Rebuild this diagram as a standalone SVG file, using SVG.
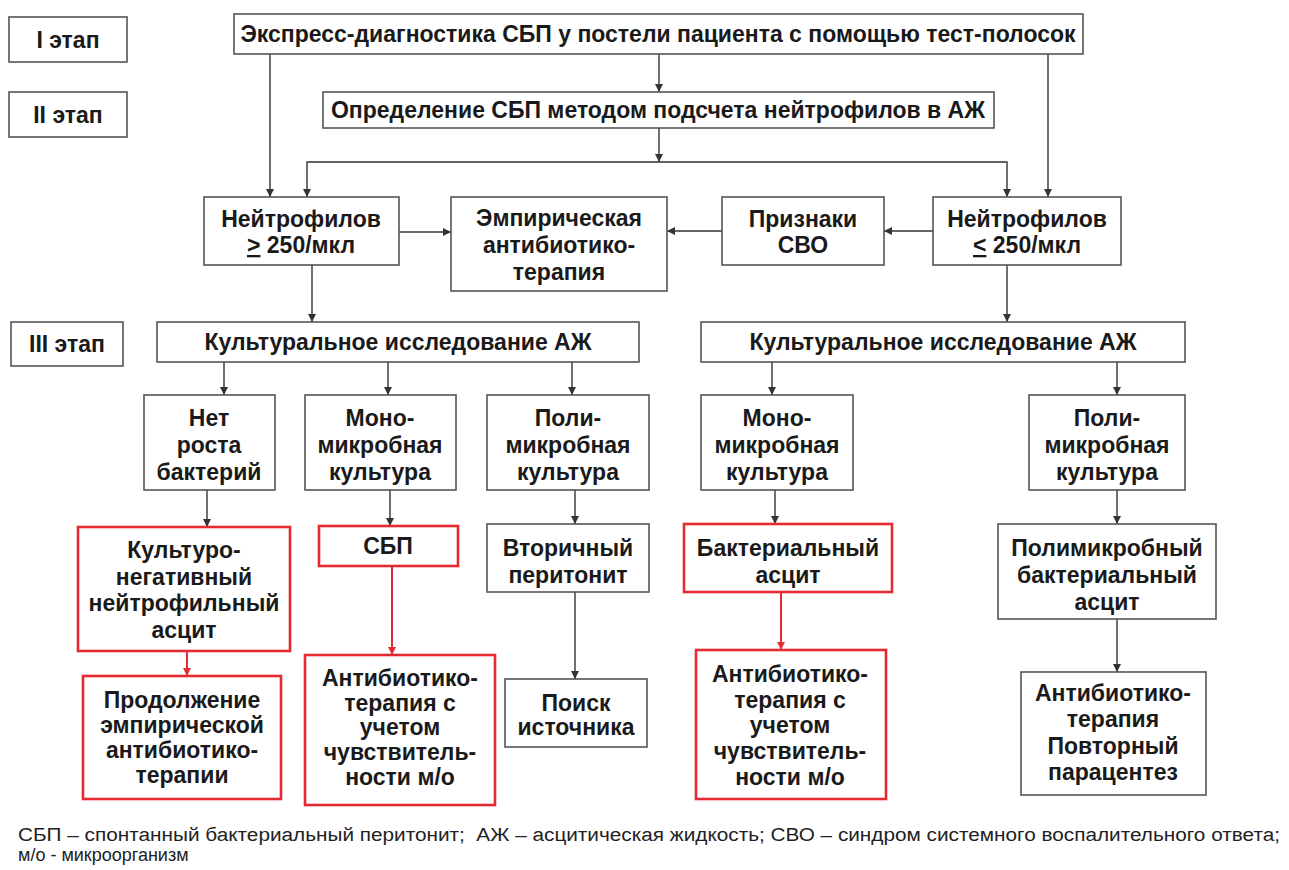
<svg xmlns="http://www.w3.org/2000/svg" width="1289" height="870" viewBox="0 0 1289 870">
<defs>
<style>
.b{fill:#fff;stroke:#555;stroke-width:1.6}
.r{fill:#fff;stroke:#e42a33;stroke-width:2.6}
text{font-family:"Liberation Sans",Arial,sans-serif;font-weight:bold;font-size:23px;fill:#1a1a1a;text-anchor:middle}
.c{fill:none;stroke:#333;stroke-width:1.4}
.cr{fill:none;stroke:#e42a33;stroke-width:2}
.f{font-weight:normal;font-size:18px;text-anchor:start;fill:#222}
</style>
<marker id="a" viewBox="0 0 10 10" refX="10" refY="5" markerWidth="8" markerHeight="8" markerUnits="userSpaceOnUse" orient="auto"><path d="M0,0 L10,5 L0,10 z" fill="#333"/></marker>
<marker id="ar" viewBox="0 0 10 10" refX="10" refY="5" markerWidth="8" markerHeight="8" markerUnits="userSpaceOnUse" orient="auto"><path d="M0,0 L10,5 L0,10 z" fill="#e42a33"/></marker>
</defs>
<rect width="1289" height="870" fill="#fff"/>

<g id="connectors">
<path class="c" marker-end="url(#a)" d="M270,54 V197"/>
<path class="c" marker-end="url(#a)" d="M659,54 V92"/>
<path class="c" marker-end="url(#a)" d="M1048,54 V197"/>
<path class="c" marker-end="url(#a)" d="M659,128 V162"/>
<path class="c" marker-end="url(#a)" d="M659,162 H307 V197"/>
<path class="c" marker-end="url(#a)" d="M659,162 H1007 V197"/>
<path class="c" marker-end="url(#a)" d="M399,232 H451"/>
<path class="c" marker-end="url(#a)" d="M722,231 H667"/>
<path class="c" marker-end="url(#a)" d="M933,231 H884"/>
<path class="c" marker-end="url(#a)" d="M312,265 V322"/>
<path class="c" marker-end="url(#a)" d="M1007,265 V322"/>
<path class="c" marker-end="url(#a)" d="M224,362 V395"/>
<path class="c" marker-end="url(#a)" d="M388,362 V395"/>
<path class="c" marker-end="url(#a)" d="M572,362 V395"/>
<path class="c" marker-end="url(#a)" d="M772,362 V395"/>
<path class="c" marker-end="url(#a)" d="M1117,362 V395"/>
<path class="c" marker-end="url(#a)" d="M207,490 V527"/>
<path class="c" marker-end="url(#a)" d="M390,490 V526"/>
<path class="c" marker-end="url(#a)" d="M575,490 V524"/>
<path class="c" marker-end="url(#a)" d="M775,490 V524"/>
<path class="c" marker-end="url(#a)" d="M1117,490 V524"/>
<path class="cr" marker-end="url(#ar)" d="M187,651 V676"/>
<path class="cr" marker-end="url(#ar)" d="M392,566 V655"/>
<path class="c" marker-end="url(#a)" d="M575,592 V679"/>
<path class="cr" marker-end="url(#ar)" d="M781,592 V650"/>
<path class="c" marker-end="url(#a)" d="M1117,619 V672"/>
</g>

<g id="stage1"><rect class="b" x="9" y="17" width="118" height="45"/><text x="68" y="48">I этап</text></g>
<g id="stage2"><rect class="b" x="9" y="92" width="118" height="45"/><text x="68" y="123">II этап</text></g>
<g id="stage3"><rect class="b" x="11" y="322" width="112" height="44"/><text x="67" y="352">III этап</text></g>

<g id="express"><rect class="b" x="234" y="14" width="849" height="40"/><text x="658" y="42">Экспресс-диагностика СБП у постели пациента с помощью тест-полосок</text></g>
<g id="count"><rect class="b" x="323" y="92" width="671" height="36"/><text x="658" y="118">Определение СБП методом подсчета нейтрофилов в АЖ</text></g>

<g id="neut-high"><rect class="b" x="204" y="197" width="195" height="68"/><text x="301" y="227">Нейтрофилов</text><text x="301" y="253"><tspan text-decoration="underline">&gt;</tspan> 250/мкл</text></g>
<g id="empiric"><rect class="b" x="451" y="197" width="216" height="94"/><text x="559" y="226">Эмпирическая</text><text x="559" y="253">антибиотико-</text><text x="559" y="280">терапия</text></g>
<g id="svo"><rect class="b" x="722" y="197" width="162" height="68"/><text x="803" y="227">Признаки</text><text x="803" y="253">СВО</text></g>
<g id="neut-low"><rect class="b" x="933" y="197" width="188" height="68"/><text x="1027" y="227">Нейтрофилов</text><text x="1027" y="253"><tspan text-decoration="underline">&lt;</tspan> 250/мкл</text></g>

<g id="culture-left"><rect class="b" x="157" y="322" width="482" height="40"/><text x="398" y="350">Культуральное исследование АЖ</text></g>
<g id="culture-right"><rect class="b" x="701" y="322" width="484" height="40"/><text x="943" y="350">Культуральное исследование АЖ</text></g>

<g id="no-growth"><rect class="b" x="144" y="395" width="131" height="95"/><text x="209" y="426">Нет</text><text x="209" y="453">роста</text><text x="209" y="480">бактерий</text></g>
<g id="mono-left"><rect class="b" x="305" y="395" width="151" height="95"/><text x="380" y="426">Моно-</text><text x="380" y="453">микробная</text><text x="380" y="480">культура</text></g>
<g id="poly-left"><rect class="b" x="487" y="395" width="162" height="95"/><text x="568" y="426">Поли-</text><text x="568" y="453">микробная</text><text x="568" y="480">культура</text></g>
<g id="mono-right"><rect class="b" x="701" y="395" width="152" height="95"/><text x="777" y="426">Моно-</text><text x="777" y="453">микробная</text><text x="777" y="480">культура</text></g>
<g id="poly-right"><rect class="b" x="1029" y="395" width="156" height="95"/><text x="1107" y="426">Поли-</text><text x="1107" y="453">микробная</text><text x="1107" y="480">культура</text></g>

<g id="culture-negative"><rect class="r" x="78" y="527" width="212" height="124"/><text x="184" y="558">Культуро-</text><text x="184" y="585">негативный</text><text x="184" y="611">нейтрофильный</text><text x="184" y="638">асцит</text></g>
<g id="sbp"><rect class="r" x="319" y="526" width="139" height="40"/><text x="388" y="554">СБП</text></g>
<g id="secondary"><rect class="b" x="487" y="524" width="162" height="68"/><text x="568" y="556">Вторичный</text><text x="568" y="583">перитонит</text></g>
<g id="bacterascites"><rect class="r" x="684" y="524" width="208" height="68"/><text x="788" y="556">Бактериальный</text><text x="788" y="583">асцит</text></g>
<g id="polymicrobial"><rect class="b" x="998" y="524" width="218" height="95"/><text x="1107" y="556">Полимикробный</text><text x="1107" y="583">бактериальный</text><text x="1107" y="610">асцит</text></g>

<g id="continue"><rect class="r" x="83" y="676" width="198" height="123"/><text x="182" y="708">Продолжение</text><text x="182" y="733">эмпирической</text><text x="182" y="758">антибиотико-</text><text x="182" y="783">терапии</text></g>
<g id="abx-left"><rect class="r" x="305" y="655" width="190" height="150"/><text x="400" y="686">Антибиотико-</text><text x="400" y="711">терапия с</text><text x="400" y="735">учетом</text><text x="400" y="760">чувствитель-</text><text x="400" y="785">ности м/о</text></g>
<g id="search"><rect class="b" x="505" y="679" width="142" height="68"/><text x="576" y="711">Поиск</text><text x="576" y="735">источника</text></g>
<g id="abx-right"><rect class="r" x="696" y="650" width="190" height="149"/><text x="790" y="682">Антибиотико-</text><text x="790" y="708">терапия с</text><text x="790" y="733">учетом</text><text x="790" y="759">чувствитель-</text><text x="790" y="785">ности м/о</text></g>
<g id="abx-repeat"><rect class="b" x="1021" y="672" width="185" height="123"/><text x="1113" y="701">Антибиотико-</text><text x="1113" y="727">терапия</text><text x="1113" y="754">Повторный</text><text x="1113" y="780">парацентез</text></g>

<g id="legend"><text class="f" x="18" y="841" textLength="1262" lengthAdjust="spacingAndGlyphs" xml:space="preserve">СБП – спонтанный бактериальный перитонит;  АЖ – асцитическая жидкость; СВО – синдром системного воспалительного ответа;</text><text class="f" x="18" y="861">м/о - микроорганизм</text></g>
</svg>
